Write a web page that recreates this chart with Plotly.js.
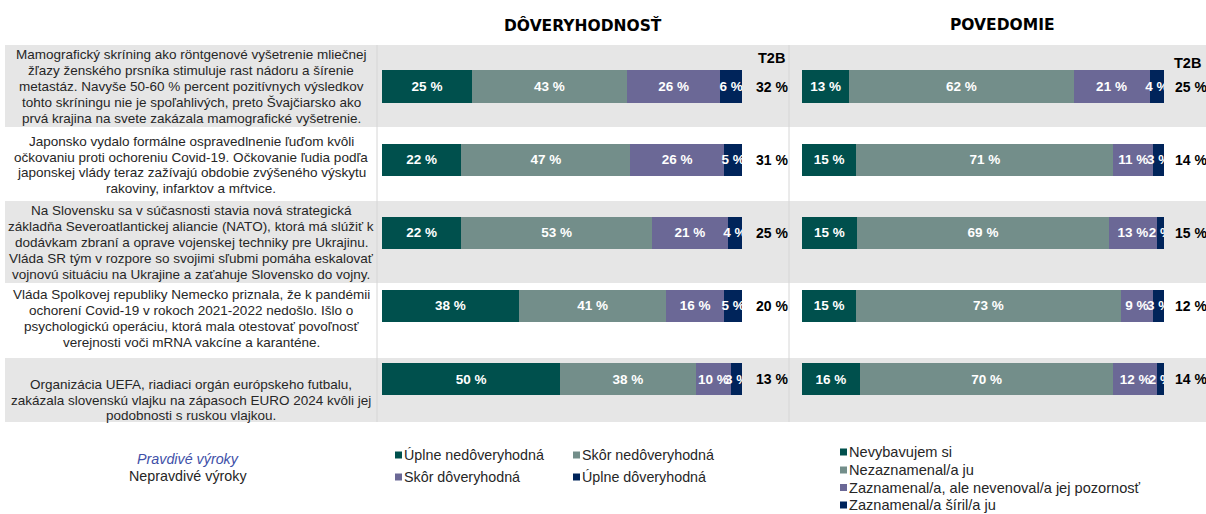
<!DOCTYPE html>
<html><head><meta charset="utf-8">
<script src="https://cdn.plot.ly/plotly-3.0.1.min.js"></script>
<style>html,body{margin:0;padding:0;background:#fff;} #chart{width:1206px;height:514px;}</style>
</head><body><div id="chart"></div>
<script>
// ---------- DATA ----------
const statements = [
  'Mamografický skríning ako röntgenové vyšetrenie mliečnej<br>žľazy ženského prsníka stimuluje rast nádoru a šírenie<br>metastáz. Navyše 50-60 % percent pozitívnych výsledkov<br>tohto skríningu nie je spoľahlivých, preto Švajčiarsko ako<br>prvá krajina na svete zakázala mamografické vyšetrenie.',
  'Japonsko vydalo formálne ospravedlnenie ľuďom kvôli<br>očkovaniu proti ochoreniu Covid-19. Očkovanie ľudia podľa<br>japonskej vlády teraz zažívajú obdobie zvýšeného výskytu<br>rakoviny, infarktov a mŕtvice.',
  'Na Slovensku sa v súčasnosti stavia nová strategická<br>základňa Severoatlantickej aliancie (NATO), ktorá má slúžiť k<br>dodávkam zbraní a oprave vojenskej techniky pre Ukrajinu.<br>Vláda SR tým v rozpore so svojimi sľubmi pomáha eskalovať<br>vojnovú situáciu na Ukrajine a zaťahuje Slovensko do vojny.',
  'Vláda Spolkovej republiky Nemecko priznala, že k pandémii<br>ochorení Covid-19 v rokoch 2021-2022 nedošlo. Išlo o<br>psychologickú operáciu, ktorá mala otestovať povoľnosť<br>verejnosti voči mRNA vakcíne a karanténe.',
  'Organizácia UEFA, riadiaci orgán európskeho futbalu,<br>zakázala slovenskú vlajku na zápasoch EURO 2024 kvôli jej<br>podobnosti s ruskou vlajkou.'
];
const panelTitles = ['DÔVERYHODNOSŤ', 'POVEDOMIE'];
const t2bLabel = 'T2B';
const trustCategories = ['Úplne nedôveryhodná', 'Skôr nedôveryhodná', 'Skôr dôveryhodná', 'Úplne dôveryhodná'];
const awareCategories = ['Nevybavujem si', 'Nezaznamenal/a ju', 'Zaznamenal/a, ale nevenoval/a jej pozornosť', 'Zaznamenal/a šíril/a ju'];
const trustUplneNedov = [25, 22, 22, 38, 50];
const trustSkorNedov  = [43, 47, 53, 41, 38];
const trustSkorDov    = [26, 26, 21, 16, 10];
const trustUplneDov   = [6, 5, 4, 5, 3];
const awareNevybavujem  = [13, 15, 15, 15, 16];
const awareNezaznamenal = [62, 71, 69, 73, 70];
const awareNevenoval    = [21, 11, 13, 9, 12];
const awareSiril        = [4, 3, 2, 3, 2];
const t2bTrust = [32, 31, 25, 20, 13];
const t2bAware = [25, 14, 15, 12, 14];
const legendNote = ['Pravdivé výroky', 'Nepravdivé výroky'];

// ---------- STYLE / LAYOUT ----------
const W = 1206, H = 514;
const fx = px => px / W;
const fy = py => 1 - py / H;
const FONT = 'Liberation Sans, Arial, sans-serif';
const colors = ['#00504D', '#738E8A', '#6B6896', '#00245A'];
const rows = [0, 1, 2, 3, 4];

function stackTraces(series, xa) {
  const sums = rows.map(i => series.reduce((s, a) => s + a[i], 0));
  return series.map((vals, k) => ({
    type: 'bar', orientation: 'h', xaxis: xa, yaxis: 'y',
    y: rows, x: vals.map((v, i) => v / sums[i] * 100),
    text: vals.map(v => v + ' %'),
    textposition: 'inside', insidetextanchor: 'middle', textangle: 0,
    textfont: {family: FONT, size: 13.5, color: '#ffffff', weight: 'bold'},
    marker: {color: colors[k], line: {width: 0}},
    width: 0.44, hoverinfo: 'skip'
  }));
}
const traces = [
  ...stackTraces([trustUplneNedov, trustSkorNedov, trustSkorDov, trustUplneDov], 'x'),
  ...stackTraces([awareNevybavujem, awareNezaznamenal, awareNevenoval, awareSiril], 'x2')
];

const shapes = [];
const bandEdges = [45, 127, 201, 283, 358, 422];
for (let i = 0; i < 5; i++) {
  if (i % 2 === 0) {
    shapes.push({type: 'rect', xref: 'paper', yref: 'paper', x0: fx(5), x1: fx(1206),
      y0: fy(bandEdges[i + 1]), y1: fy(bandEdges[i]), fillcolor: '#E6E6E6', line: {width: 0}, layer: 'below'});
  }
}
[377, 789].forEach(px => shapes.push({type: 'line', xref: 'paper', yref: 'paper',
  x0: fx(px), x1: fx(px), y0: fy(422), y1: fy(45), line: {color: '#D6D6D6', width: 1}, layer: 'below'}));

const annotations = [];
const textCenters = [86.5, 165, 242.5, 318.5, 400];
const lineStep = 15.9;
statements.forEach((s, i) => {
  const lines = s.split('<br>');
  lines.forEach((ln, j) => {
    annotations.push({xref: 'paper', yref: 'paper', x: fx(191),
      y: fy(textCenters[i] + (j - (lines.length - 1) / 2) * lineStep),
      text: ln, showarrow: false, xanchor: 'center', yanchor: 'middle',
      font: {family: FONT, size: 13.5, color: '#262626'}});
  });
});
// panel titles
[[583, panelTitles[0]], [1002, panelTitles[1]]].forEach(([px, t]) => annotations.push({
  xref: 'paper', yref: 'paper', x: fx(px), y: fy(25), text: t, showarrow: false,
  xanchor: 'center', yanchor: 'middle', font: {family: 'DejaVu Sans, sans-serif', size: 15.5, color: '#000', weight: 'bold'}}));
// T2B headers
[[771, 58], [1187, 63]].forEach(([px, py]) => annotations.push({
  xref: 'paper', yref: 'paper', x: fx(px), y: fy(py), text: t2bLabel, showarrow: false,
  xanchor: 'center', yanchor: 'middle', font: {family: FONT, size: 14.5, color: '#000', weight: 'bold'}}));
// T2B values
t2bTrust.forEach((v, i) => annotations.push({xref: 'paper', yref: 'y', x: fx(754), y: i,
  text: v + ' %', showarrow: false, xanchor: 'left', yanchor: 'middle',
  font: {family: FONT, size: 14, color: '#000', weight: 'bold'}}));
t2bAware.forEach((v, i) => annotations.push({xref: 'paper', yref: 'y', x: fx(1173), y: i,
  text: v + ' %', showarrow: false, xanchor: 'left', yanchor: 'middle',
  font: {family: FONT, size: 14, color: '#000', weight: 'bold'}}));
// note legend
annotations.push({xref: 'paper', yref: 'paper', x: fx(188), y: fy(459), text: legendNote[0],
  showarrow: false, xanchor: 'center', yanchor: 'middle', font: {family: FONT, size: 14.3, color: '#4050A8', style: 'italic'}});
annotations.push({xref: 'paper', yref: 'paper', x: fx(188), y: fy(476), text: legendNote[1],
  showarrow: false, xanchor: 'center', yanchor: 'middle', font: {family: FONT, size: 14.3, color: '#262626'}});

function legendItem(sqX, cy, color, label, size) {
  shapes.push({type: 'rect', xref: 'paper', yref: 'paper', x0: fx(sqX), x1: fx(sqX + 7),
    y0: fy(cy + 3.5), y1: fy(cy - 3.5), fillcolor: color, line: {width: 0}});
  annotations.push({xref: 'paper', yref: 'paper', x: fx(sqX + 7), y: fy(cy), text: label,
    showarrow: false, xanchor: 'left', yanchor: 'middle', font: {family: FONT, size: size, color: '#262626'}});
}
// trust legend (2 x 2)
legendItem(395, 455, colors[0], trustCategories[0], 14.3);
legendItem(573, 455, colors[1], trustCategories[1], 14.3);
legendItem(395, 477, colors[2], trustCategories[2], 14.3);
legendItem(573, 477, colors[3], trustCategories[3], 14.3);
// awareness legend (vertical)
[452, 470, 487.5, 505].forEach((cy, k) => legendItem(840, cy, colors[k], awareCategories[k], 14.6));

const layout = {
  width: W, height: H, margin: {l: 0, r: 0, t: 0, b: 0},
  paper_bgcolor: '#ffffff', plot_bgcolor: 'rgba(0,0,0,0)',
  barmode: 'stack', showlegend: false,
  uniformtext: {mode: 'show', minsize: 13.5},
  xaxis: {domain: [fx(382), fx(742)], range: [0, 100], visible: false, fixedrange: true, anchor: 'y'},
  xaxis2: {domain: [fx(802), fx(1164)], range: [0, 100], visible: false, fixedrange: true, anchor: 'y'},
  yaxis: {domain: [fy(422), fy(45)], range: [4.588, -0.568], visible: false, fixedrange: true},
  shapes: shapes, annotations: annotations
};
Plotly.newPlot('chart', traces, layout, {displayModeBar: false, staticPlot: true});
</script></body></html>
